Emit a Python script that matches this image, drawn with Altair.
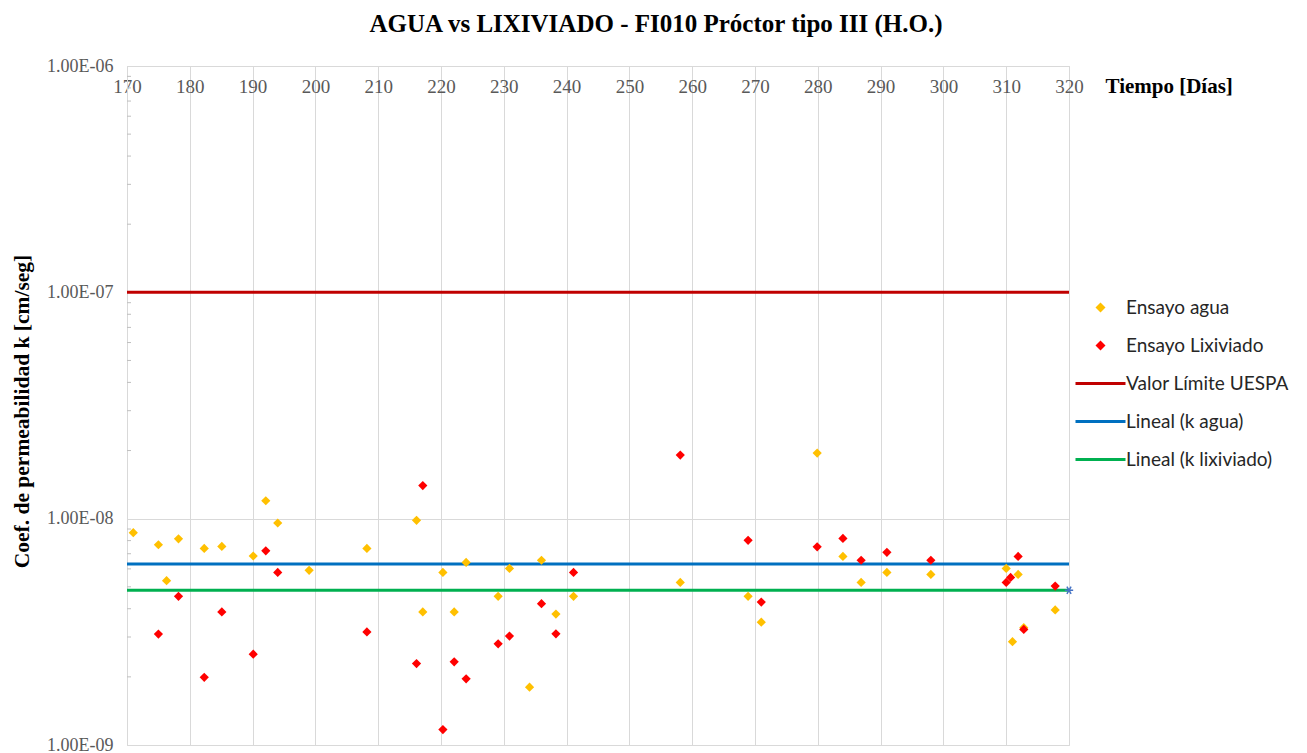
import altair as alt
import pandas as pd

# ---- data ----
agua_dias = [171, 175, 176.3, 178.2, 182.3, 185.1, 190.1, 192.1, 194, 199,
             208.2, 216.1, 217.1, 220.3, 222.1, 224, 229.1, 230.9, 234.1, 236,
             238.3, 241.1, 258.1, 268.9, 271, 279.9, 284, 286.9, 291, 298,
             310, 311.9, 311, 312.8, 317.8]
agua_k = [8.67e-9, 7.67e-9, 5.32e-9, 8.15e-9, 7.39e-9, 7.54e-9, 6.84e-9, 1.20e-8, 9.57e-9, 5.91e-9,
          7.39e-9, 9.83e-9, 3.87e-9, 5.79e-9, 3.87e-9, 6.41e-9, 4.54e-9, 6.03e-9, 1.80e-9, 6.55e-9,
          3.79e-9, 4.54e-9, 5.23e-9, 4.54e-9, 3.49e-9, 1.95e-8, 6.81e-9, 5.23e-9, 5.79e-9, 5.67e-9,
          6.03e-9, 5.67e-9, 2.86e-9, 3.30e-9, 3.95e-9]

lix_dias = [175, 178.2, 182.3, 185.1, 190.1, 192.1, 194, 208.2, 216.1, 217.1,
            220.3, 222.1, 224, 229.1, 230.9, 236, 238.3, 241.1, 258.1, 268.9,
            271, 279.9, 284, 286.9, 291, 298, 310, 310.7, 311.9, 312.8, 317.8]
lix_k = [3.09e-9, 4.54e-9, 1.99e-9, 3.87e-9, 2.52e-9, 7.21e-9, 5.79e-9, 3.16e-9, 2.29e-9, 1.40e-8,
         1.17e-9, 2.33e-9, 1.96e-9, 2.80e-9, 3.03e-9, 4.21e-9, 3.10e-9, 5.79e-9, 1.91e-8, 8.02e-9,
         4.28e-9, 7.51e-9, 8.18e-9, 6.55e-9, 7.10e-9, 6.55e-9, 5.23e-9, 5.50e-9, 6.81e-9, 3.24e-9, 5.04e-9]

series = ["Ensayo agua", "Ensayo Lixiviado", "Valor Límite UESPA", "Lineal (k agua)", "Lineal (k lixiviado)"]
colors = ["#FFC000", "#FF0000", "#C00000", "#0070C0", "#00B050"]
LINE_SYMBOL = "M-5,0H5"
shapes = ["diamond", "diamond", LINE_SYMBOL, LINE_SYMBOL, LINE_SYMBOL]

line_series = ["Valor Límite UESPA", "Lineal (k agua)", "Lineal (k lixiviado)"]
line_k = [1.0e-7, 6.30e-9, 4.83e-9]
line_colors = ["#C00000", "#0070C0", "#00B050"]

y_ticks = [1e-9, 1e-8, 1e-7, 1e-6]
y_minor = [m * 10.0 ** e for e in (-9, -8, -7) for m in range(2, 10)]
x_ticks = list(range(170, 321, 10))

end_marker_dia = [320]
end_marker_k = [4.83e-9]

# ---- tables ----
pts = pd.DataFrame({
    "dia": agua_dias + lix_dias,
    "k": agua_k + lix_k,
    "serie": ["Ensayo agua"] * len(agua_dias) + ["Ensayo Lixiviado"] * len(lix_dias),
})
minor = pd.DataFrame({"k": y_minor})
endm = pd.DataFrame({"dia": end_marker_dia, "k": end_marker_k})

SERIF = "Liberation Serif"
SANS = "Lato"

xscale = alt.Scale(domain=[170, 320], nice=False, zero=False)
yscale = alt.Scale(type="log", domain=[1e-9, 1e-6], nice=False)

xaxis = alt.Axis(
    orient="top", values=x_ticks, grid=True, gridColor="#D9D9D9", domainColor="#D9D9D9",
    ticks=False, tickSize=0, labelBaseline="middle", labelPadding=-20, labelFont=SERIF,
    labelFontSize=19, labelColor="#595959", labelFlush=False, labelOverlap=False,
    title="Tiempo [Días]", titleX=978, titleY=20, titleAlign="left", titleBaseline="middle",
    titleAngle=0, titleFont=SERIF, titleFontSize=21, titleFontWeight="bold", titleColor="#000000",
)
yaxis = alt.Axis(
    orient="left", values=y_ticks, grid=True, gridColor="#D9D9D9", domainColor="#D9D9D9",
    ticks=False, labelPadding=14, labelFont=SERIF, labelFontSize=18, labelColor="#595959",
    labelExpr="'1.00E-0' + round(-log(datum.value)/LN10)", labelFlush=False, labelOverlap=False,
    title="Coef. de permeabilidad k [cm/seg]", titleX=-105, titleY=345, titleAngle=270,
    titleAlign="center", titleBaseline="middle", titleFont=SERIF, titleFontSize=21.5,
    titleFontWeight="bold", titleColor="#000000",
)

leg = alt.Legend(
    title=None, orient="none", legendX=964, legendY=232, direction="vertical", columns=1,
    labelFont=SANS, labelFontSize=19, labelColor="#262626", labelOffset=16, rowPadding=18,
    labelLimit=400, padding=0, symbolOpacity=1,
)

minor_ticks = alt.Chart(minor).mark_rule(color="#BFBFBF", strokeWidth=1).encode(
    y=alt.Y("k:Q", scale=yscale, axis=yaxis),
    x=alt.value(0), x2=alt.value(4),
)

rule_layers = []
for name, val, col in zip(line_series, line_k, line_colors):
    df = pd.DataFrame({"serie": [name], "k": [val]})
    rule_layers.append(
        alt.Chart(df).mark_rule(strokeWidth=3, color=col).encode(
            y=alt.Y("k:Q", scale=yscale, axis=yaxis),
        )
    )

points = alt.Chart(pts).mark_point(filled=True, opacity=1, size=85).encode(
    x=alt.X("dia:Q", scale=xscale, axis=xaxis),
    y=alt.Y("k:Q", scale=yscale, axis=yaxis),
    color=alt.Color("serie:N", scale=alt.Scale(domain=series, range=colors), legend=leg),
    stroke=alt.Stroke("serie:N", scale=alt.Scale(domain=series, range=colors), legend=leg),
    shape=alt.Shape("serie:N", scale=alt.Scale(domain=series, range=shapes), legend=leg),
    strokeWidth=alt.StrokeWidth("serie:N", scale=alt.Scale(type="ordinal", domain=series, range=[0, 0, 3, 3, 3]), legend=leg),
)

star = alt.Chart(endm).mark_point(
    shape="M-1,0L1,0M-0.5,-0.87L0.5,0.87M-0.5,0.87L0.5,-0.87",
    filled=False, stroke="#4472C4", strokeWidth=1.5, size=70, opacity=1,
).encode(
    x=alt.X("dia:Q", scale=xscale, axis=xaxis),
    y=alt.Y("k:Q", scale=yscale, axis=yaxis),
)

chart = alt.layer(minor_ticks, *rule_layers, points, star).properties(
    width=942, height=679,
    title=alt.TitleParams(
        "AGUA vs LIXIVIADO - FI010 Próctor tipo III (H.O.)", anchor="middle", dx=58,
        font=SERIF, fontSize=25, fontWeight="bold", color="#000000", offset=20,
    ),
    autosize=alt.AutoSizeParams(type="none"),
    padding={"left": 127, "top": 66, "right": 238, "bottom": 8},
).configure_view(stroke="#D9D9D9").configure(background="white")

chart.save("out.html", embed_options={"renderer": "svg", "actions": False})
